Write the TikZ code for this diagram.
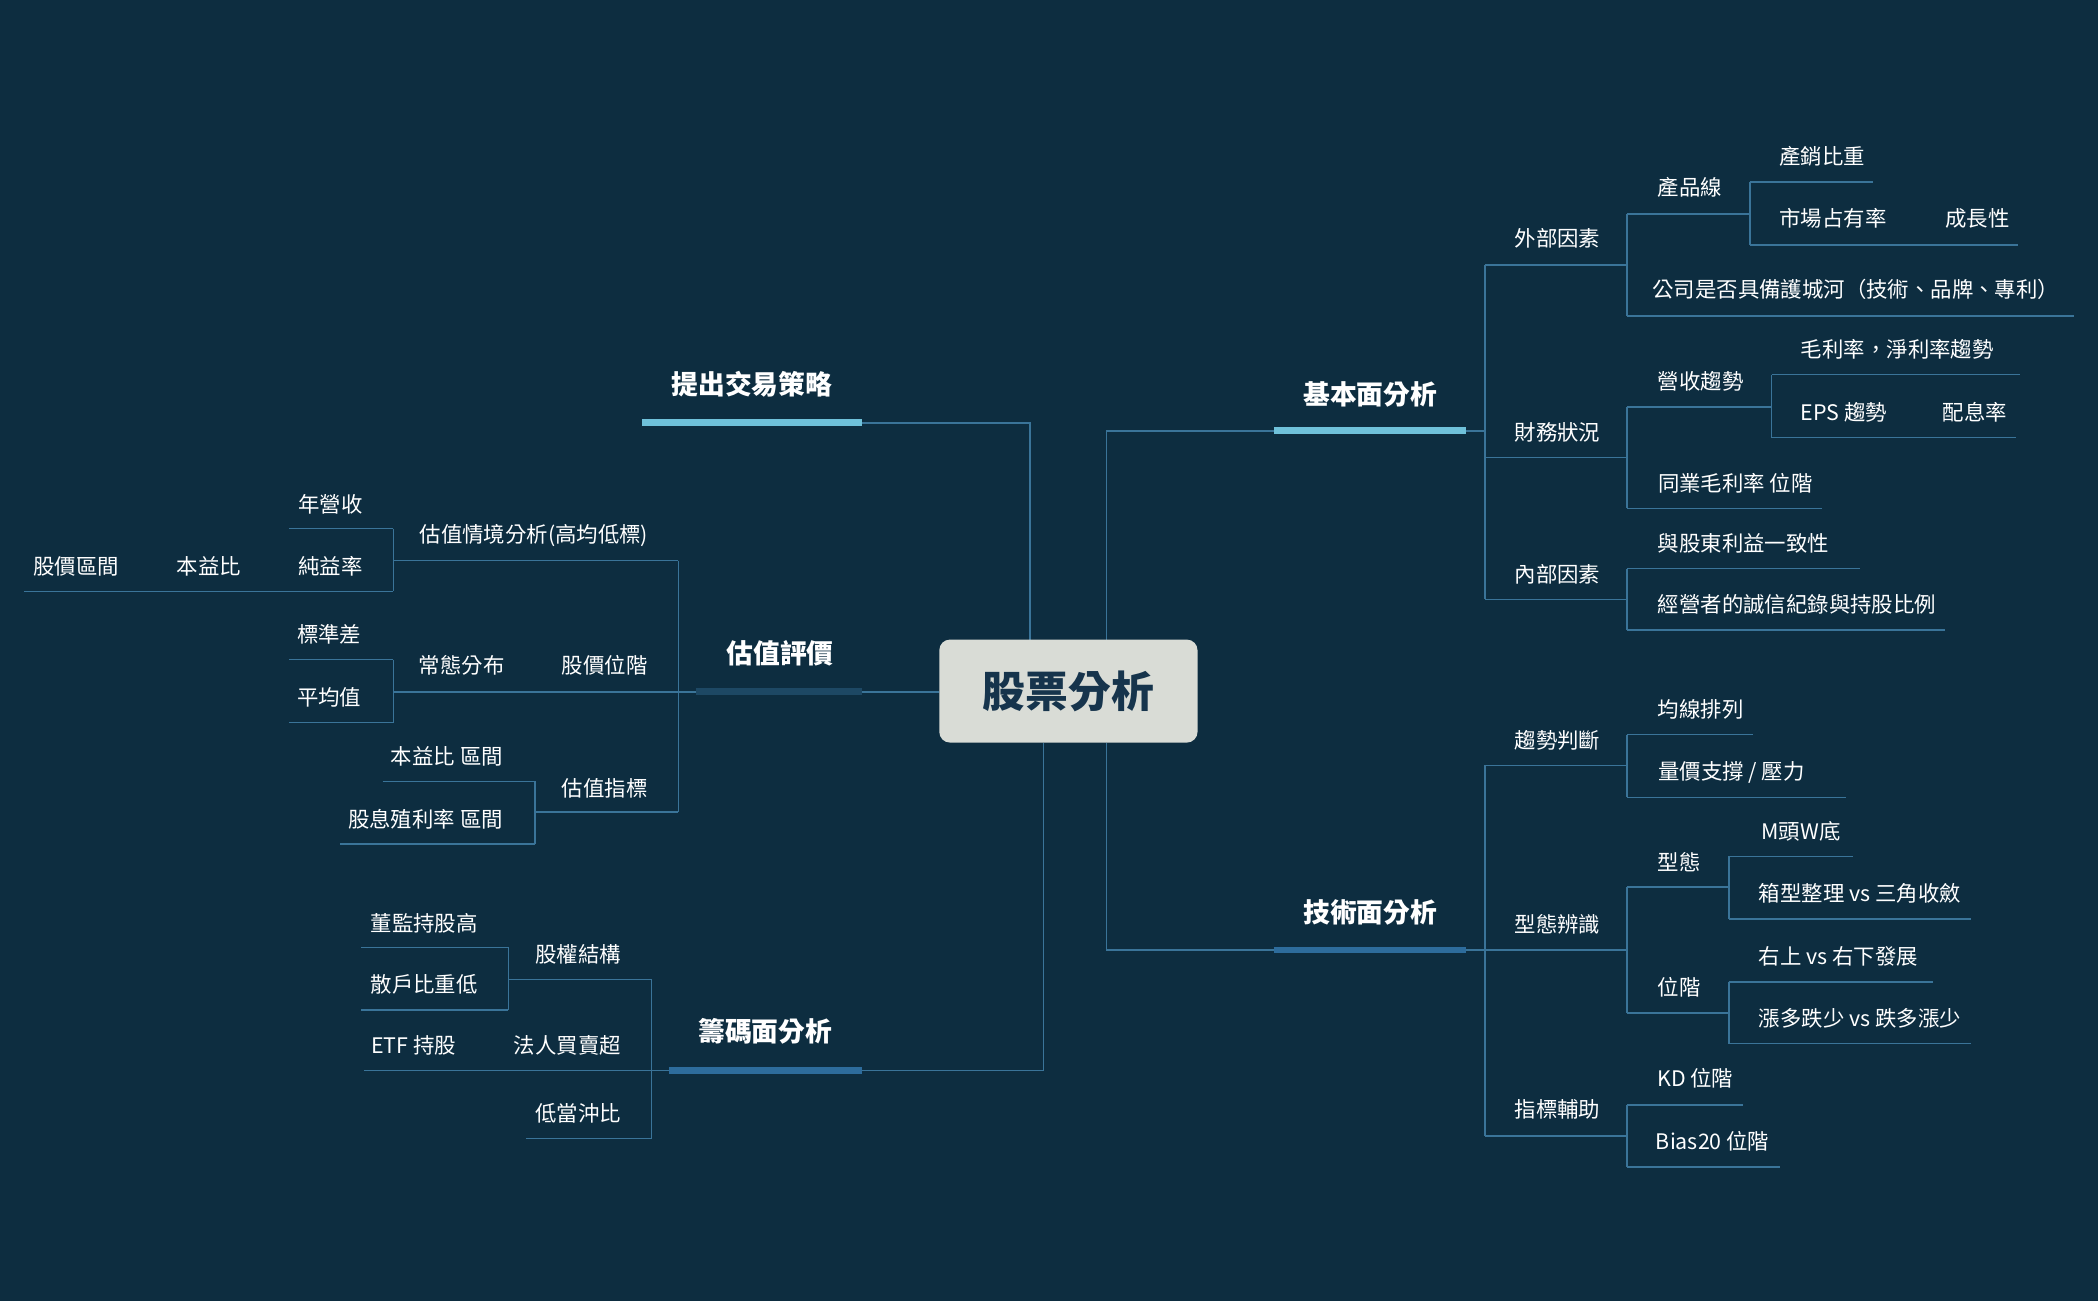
\documentclass[tikz,border=0pt]{standalone}
\usepackage{fontspec}
\newfontfamily\cjk{Noto Sans CJK TC}
\definecolor{bg}{HTML}{0D2D40}
\definecolor{ln}{HTML}{3A7499}
\definecolor{lb}{HTML}{6FC1DA}
\definecolor{db}{HTML}{1D4864}
\definecolor{mb}{HTML}{2D6C9C}
\definecolor{cbox}{HTML}{D9DCD6}
\definecolor{ctext}{HTML}{16344C}
\tikzset{
 lf/.style={text=white,font=\cjk\fontsize{8}{9}\selectfont,inner sep=0pt},
 mn/.style={text=white,font=\cjk\bfseries\fontsize{10}{11}\selectfont,inner sep=0pt},
 cn/.style={line width=0.6pt,draw=ln},
 bar/.style={line width=2.5pt}
}
% \leaf{name}{x}{y}{x1}{x2}{liney}{text}
\newcommand{\leaf}[7]{\node[lf] (#1) at (#2,#3) {#7}; \draw[cn] (#4,#6) -- (#5,#6);}
\newcommand{\vl}[3]{\draw[cn] (#1,#2) -- (#1,#3);}
\begin{document}
\begin{tikzpicture}[x=0.5pt,y=-0.5pt]
\fill[bg] (0,0) rectangle (1568,972);
\useasboundingbox (0,0) rectangle (1568,972);
% connectors from center
\draw[cn] (827,478) -- (827,322) -- (952,322);
\draw[cn] (827,555) -- (827,710) -- (952,710);
\draw[cn] (770,478) -- (770,316) -- (644,316);
\draw[cn] (702,517) -- (644,517);
\draw[cn] (780,555) -- (780,800) -- (644,800);
% center
\node[fill=cbox,rounded corners=4pt,minimum width=96.5pt,minimum height=38.5pt,text=ctext,font=\cjk\bfseries\fontsize{16}{18}\selectfont] (root) at (798.5,516.5) {股票分析};
% main branches
\node[mn] (jb) at (1024,295) {基本面分析}; \draw[bar,lb] (952,322) -- (1096,322);
\node[mn] (js) at (1024,682) {技術面分析}; \draw[bar,mb] (952,710) -- (1096,710);
\node[mn] (tc) at (562,287) {提出交易策略}; \draw[bar,lb] (480,316) -- (644,316);
\node[mn] (gz) at (583,488) {估值評價}; \draw[bar,db] (520,517) -- (644,517);
\node[mn] (cm) at (572,771) {籌碼面分析}; \draw[bar,mb] (500,800) -- (644,800);
% 基本面
\draw[cn] (1096,322) -- (1110,322); \vl{1110}{198}{448}
\leaf{wb}{1164}{178}{1110}{1216}{198}{外部因素}
\vl{1216}{160}{236}
\leaf{cp}{1263}{140}{1216}{1308}{160}{產品線}
\vl{1308}{136}{183}
\leaf{cx}{1362}{117}{1308}{1400}{136}{產銷比重}
\leaf{sc}{1370}{163}{1308}{1430}{183}{市場占有率}
\leaf{cz}{1478}{163}{1430}{1508}{183}{成長性}
\leaf{hc}{1387}{216}{1216}{1550}{236}{公司是否具備護城河（技術、品牌、專利）}
\leaf{cw}{1164}{323}{1110}{1216}{342}{財務狀況}
\vl{1216}{304}{380}
\leaf{ys}{1271}{285}{1216}{1324}{304}{營收趨勢}
\vl{1324}{280}{327}
\leaf{ml}{1418}{261}{1324}{1510}{280}{毛利率，淨利率趨勢}
\leaf{eps}{1378}{308}{1324}{1430}{327}{EPS 趨勢}
\leaf{px}{1476}{308}{1430}{1507}{327}{配息率}
\leaf{ty}{1297}{361}{1216}{1362}{380}{同業毛利率 位階}
\leaf{nb}{1164}{429}{1110}{1216}{448}{內部因素}
\vl{1216}{425}{471}
\leaf{gd}{1303}{406}{1216}{1390}{425}{與股東利益一致性}
\leaf{jy}{1343}{452}{1216}{1454}{471}{經營者的誠信紀錄與持股比例}
% 技術面
\draw[cn] (1096,710) -- (1110,710); \vl{1110}{572}{849}
\leaf{qs}{1164}{553}{1110}{1216}{572}{趨勢判斷}
\vl{1216}{549}{596}
\leaf{jx}{1271}{530}{1216}{1310}{549}{均線排列}
\leaf{lj}{1294}{577}{1216}{1380}{596}{量價支撐 / 壓力}
\leaf{xt}{1164}{691}{1110}{1216}{710}{型態辨識}
\vl{1216}{663}{757}
\leaf{xt2}{1255}{644}{1216}{1292}{663}{型態}
\vl{1292}{640}{687}
\leaf{mw}{1346}{621}{1292}{1385}{640}{M頭W底}
\leaf{xx}{1390}{668}{1292}{1473}{687}{箱型整理 vs 三角收斂}
\leaf{wj}{1255}{738}{1216}{1292}{757}{位階}
\vl{1292}{734}{780}
\leaf{ysx}{1374}{715}{1292}{1445}{734}{右上 vs 右下發展}
\leaf{zd}{1390}{761}{1292}{1473}{780}{漲多跌少 vs 跌多漲少}
\leaf{zb}{1164}{829}{1110}{1216}{849}{指標輔助}
\vl{1216}{826}{872}
\leaf{kd}{1267}{806}{1216}{1303}{826}{KD 位階}
\leaf{bias}{1280}{853}{1216}{1330}{872}{Bias20 位階}
% 估值評價
\draw[cn] (520,517) -- (507,517); \vl{507}{419}{607}
\leaf{qj}{399}{400}{294}{507}{419}{估值情境分析(高均低標)}
\vl{294}{395}{442}
\leaf{nys}{247}{377}{216}{294}{395}{年營收}
\leaf{cyl}{247}{423}{216}{294}{442}{純益率}
\leaf{byb}{156}{423}{100}{216}{442}{本益比}
\leaf{gjq}{57}{423}{18}{100}{442}{股價區間}
\leaf{gjw}{452}{497}{400}{507}{517}{股價位階}
\leaf{ct}{345}{497}{294}{400}{517}{常態分布}
\vl{294}{493}{540}
\leaf{bzc}{246}{474}{216}{294}{493}{標準差}
\leaf{pjz}{246}{521}{216}{294}{540}{平均值}
\leaf{gzb}{452}{589}{400}{507}{607}{估值指標}
\vl{400}{584}{631}
\leaf{bq}{334}{565}{286}{400}{584}{本益比 區間}
\leaf{gx}{318}{612}{254}{400}{631}{股息殖利率 區間}
% 籌碼面
\draw[cn] (500,800) -- (487,800); \vl{487}{732}{851}
\leaf{gq}{432}{713}{380}{487}{732}{股權結構}
\vl{380}{708}{755}
\leaf{dj}{317}{690}{270}{380}{708}{董監持股高}
\leaf{sh}{317}{736}{270}{380}{755}{散戶比重低}
\leaf{fr}{424}{781}{372}{487}{800}{法人買賣超}
\leaf{etf}{309}{781}{272}{372}{800}{ETF 持股}
\leaf{dd}{432}{832}{393}{487}{851}{低當沖比}
\end{tikzpicture}
\end{document}
